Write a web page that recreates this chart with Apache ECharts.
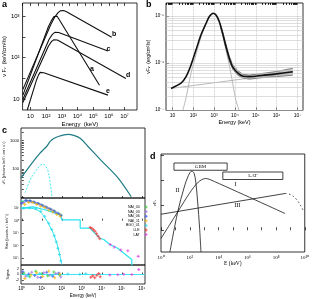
<!DOCTYPE html>
<html><head><meta charset="utf-8">
<script src="https://cdn.jsdelivr.net/npm/echarts@6/dist/echarts.min.js"></script>
<style>html,body{margin:0;padding:0;background:#fff}#c{width:312px;height:299px}</style>
</head><body><div id="c"></div>
<script>
// ===== Panel a: log10(E / keV) vs log10(nuFnu / keV cm^-2 s^-1) =====
const aB = [[0.52,1.23],[2.3,2.8],[2.55,2.98],[2.75,3.08],[2.9,3.13],[3.0,3.145],[3.12,3.14],[3.3,3.11],[6.18,2.49]];
const aA = [[0.52,1.09],[2.15,2.75],[2.35,2.9],[2.5,2.99],[2.6,3.02],[2.7,3.0],[2.85,2.91],[5.4,1.33]];
const aC = [[0.52,0.99],[2.2,2.45],[2.4,2.56],[2.55,2.61],[2.67,2.62],[2.8,2.605],[5.94,2.16]];
const aD = [[0.52,0.91],[2.15,2.28],[2.35,2.39],[2.5,2.43],[2.6,2.44],[2.72,2.425],[7.08,1.49]];
const aE = [[0.8,0.73],[1.4,1.47],[1.52,1.58],[1.62,1.64],[1.72,1.65],[1.85,1.63],[5.94,1.09]];
const aXTicks = [1,2,3,4,5,6,7];
const aYTicks = [1,2,3];

// ===== Panel b: log10(E / keV) vs log10(nuFnu / erg cm^-2 s^-1) =====
const bTotal = [[0.93,-6.54],[1.41,-6.43],[1.65,-6.29],[1.89,-6.04],[2.13,-5.72],[2.37,-5.40],[2.61,-5.16],[2.77,-5.01],[2.96,-4.94],[3.09,-4.98],[3.25,-5.12],[3.41,-5.37],[3.57,-5.65],[3.73,-5.90],[3.89,-6.08],[4.13,-6.21],[4.38,-6.28],[4.69,-6.29],[5.34,-6.26],[5.98,-6.23],[6.78,-6.185]];
const bBandComp = [[1.5,-7.0],[1.65,-6.74],[1.9,-6.2],[2.13,-5.82],[2.37,-5.45],[2.6,-5.17],[2.96,-4.95],[3.09,-4.98],[3.25,-5.13],[3.41,-5.4],[3.57,-5.72],[3.73,-6.05],[3.9,-6.45],[4.05,-6.8],[4.2,-7.0]];
const bPowerLaw = [[0.93,-6.54],[6.78,-6.2]];
const bUpper = [[3.3,-5.17],[3.41,-5.33],[3.57,-5.6],[3.73,-5.85],[3.89,-6.03],[4.13,-6.16],[4.38,-6.24],[4.69,-6.255],[5.34,-6.22],[5.98,-6.18],[6.78,-6.11]];
const bLower = [[3.3,-5.23],[3.41,-5.41],[3.57,-5.71],[3.73,-5.96],[3.89,-6.13],[4.13,-6.26],[4.38,-6.32],[4.69,-6.345],[5.34,-6.31],[5.98,-6.29],[6.78,-6.26]];
const bXTicks = [1,2,3,4,5,6,7];
const bYTicks = [-7,-6,-5];

// ===== Panel c (top): log10(E / keV) vs log10(nuFnu) =====
const cModel = [[-0.04,1.69],[0.5,2.2],[0.9,2.55],[1.08,2.68],[1.25,2.8],[1.42,2.97],[1.62,3.08],[1.82,3.14],[2.1,3.2],[2.32,3.22],[2.6,3.18],[2.92,3.08],[3.3,2.8],[4.0,2.28],[4.8,1.7],[5.47,1.03]];
const cBB = [[0.17,1.17],[0.42,1.62],[0.67,1.9],[0.85,2.08],[1.05,2.17],[1.18,2.12],[1.3,1.95],[1.4,1.6],[1.5,1.04]];
const cTopTicks = [2,3];
const cTopLabels = ['100','1000'];
// ===== Panel c (middle): log10(rate) =====
const cModelNaI = [[-0.04,1.55],[0.3,1.58],[0.6,1.5],[1.0,1.25],[1.4,0.93],[1.8,0.6],[2.0,0.42]];
const cModelStep = [[-0.04,1.0],[0.58,1.1],[1.2,0.85],[1.92,0.46],[2.0,0.46],[2.0,0.06],[2.92,0.06],[2.92,-0.6],[3.4,-0.6],[3.9,-1.4],[4.1,-1.5],[4.4,-1.9],[4.8,-2.2],[5.1,-2.6],[5.5,-3.1],[5.5,-3.6]];
const cModelBB = [[-0.04,1.0],[0.5,0.98],[0.9,0.75],[1.08,0.4],[1.25,0.0],[1.42,-0.5],[1.6,-1.1],[1.75,-1.8],[1.88,-2.6],[2.0,-3.5]];
const nai00 = [[0.05,1.5],[0.25,1.6],[0.45,1.55],[0.65,1.45],[0.85,1.35],[1.05,1.2],[1.25,1.05],[1.45,0.9],[1.65,0.75],[1.85,0.55],[1.95,0.45]];
const nai03 = [[0.1,1.45],[0.3,1.55],[0.5,1.5],[0.7,1.4],[0.9,1.3],[1.1,1.15],[1.3,1.0],[1.5,0.85],[1.7,0.65],[1.9,0.5]];
const nai06 = [[0.0,1.4],[0.2,1.62],[0.4,1.6],[0.6,1.5],[0.8,1.38],[1.0,1.25],[1.2,1.1],[1.4,0.95],[1.6,0.78],[1.8,0.6],[1.97,0.4]];
const nai11 = [[0.15,1.3],[0.35,1.45],[0.55,1.45],[0.75,1.3],[0.95,1.15],[1.15,1.05],[1.35,0.85],[1.55,0.7],[1.75,0.5],[1.92,0.35]];
const bgo01 = [[0.1,1.0],[0.4,1.02],[0.7,0.95],[0.95,0.75],[1.15,0.35],[1.35,-0.2],[1.5,-0.7],[1.62,-1.2],[1.72,-1.7],[1.8,-2.2],[1.88,-2.7],[1.95,-3.2]];
const lle = [[3.42,-0.55],[3.5,-0.6],[3.58,-0.72],[3.66,-0.85],[3.74,-1.05],[3.82,-1.25],[3.9,-1.45]];
const lat = [[4.42,-1.9],[4.62,-2.1],[4.95,-2.35],[5.3,-2.4],[5.82,-2.85]];
const cMidTicks = [-3,-2,-1,0,1];
// ===== Panel c (bottom): residuals in sigma =====
const rNai00 = [[0.1,0.5],[0.4,-0.8],[0.7,1.2],[1.0,0.3],[1.3,-0.5],[1.6,0.9],[1.9,-0.3]];
const rNai03 = [[0.2,-0.6],[0.5,0.8],[0.8,-1.0],[1.1,0.6],[1.4,-0.2],[1.7,0.4],[1.95,-0.9]];
const rNai06 = [[0.05,1.0],[0.35,0.2],[0.65,-0.4],[0.95,-1.1],[1.25,0.8],[1.55,-0.6],[1.85,0.5]];
const rNai11 = [[0.15,-1.5],[0.45,-0.2],[0.75,0.6],[1.05,-0.7],[1.35,1.3],[1.65,-1.2],[1.9,0.2]];
const rBgo01 = [[0.3,-0.5],[0.9,0.4],[1.5,-0.3],[2.3,0.2],[2.9,0.1],[3.2,0.3]];
const rLle = [[3.45,-1.0],[3.55,-0.5],[3.65,-1.2],[3.75,-0.3],[3.85,0.4],[3.92,-0.8]];
const rLat = [[4.4,-0.2],[4.8,-0.1],[5.1,0.1],[5.5,0.0],[5.85,1.8]];
const cZero = [[-0.04,0],[6.16,0]];
const cXTicks = [0,1,2,3,4,5,6];
const cResTicks = [-2,0,2];

// ===== Panel d: log10(E / keV) vs log nuFnu (arbitrary) =====
const dII = [[0.62,-0.87],[1.16,0.73],[1.62,1.73],[1.9,2.18],[2.15,2.37],[2.3,2.28],[2.42,1.93],[2.55,1.13],[2.68,0.13],[2.78,-0.87]];
const dI = [[0,-0.33],[0.6,0.22],[1.16,0.73],[1.97,1.47],[2.6,1.93],[3.1,2.07],[3.4,2.03],[8.63,0.67]];
const dIII = [[0,0.64],[8.63,1.47]];
const dIIIcut = [[8.63,1.47],[9.0,1.43],[9.4,1.25],[9.7,1.0],[9.95,0.73]];
const dGBM = [Math.log10(8), Math.log10(4e4)];
const dLAT = [Math.log10(2e4), Math.log10(3e8)];
const dXTicks = [0,2,4,6,8,10];
const dYTicks = [0,1,2,3];

// ---------- helpers ----------
const SUP = {'-':'⁻','0':'⁰','1':'¹','2':'²','3':'³','4':'⁴','5':'⁵','6':'⁶','7':'⁷','8':'⁸','9':'⁹'};
const pow10 = n => '10' + String(Math.round(n)).split('').map(c => SUP[c]).join('');
const minorLog = (lo, hi) => { const o = []; for (let n = Math.floor(lo); n <= Math.ceil(hi); n++) for (let k = 1; k <= 9; k++) { const v = n + Math.log10(k); if (v > lo && v < hi) o.push(v); } return o; };
const SANS = 'Liberation Sans', SERIF = 'Liberation Serif';
const tick = (vals, len) => ({ show: true, inside: true, length: len || 3, customValues: vals, lineStyle: { color: '#000', width: 0.7 } });
const lab = (vals, fmt, size, fam, margin) => ({ show: true, customValues: vals, formatter: fmt, fontSize: size || 6, fontFamily: fam || SANS, color: '#000', margin: margin == null ? 3 : margin });
const noLab = { show: false };
const base = (o) => Object.assign({ type: 'value', axisLine: { show: false }, splitLine: { show: false } }, o);

const ranges = {
  a: { x: [0.5, 7.79], y: [0.73, 3.32] },
  b: { x: [0.6875, 7.27], y: [-7.01, -4.723] },
  c1: { y: [0.986, 3.44] }, c2: { y: [-3.54, 1.81] }, c3: { y: [-3.5, 3.5] },
  cx: [-0.04, 6.16],
  d: { x: [0, 10], y: [-0.87, 3.05] }
};

const gridStyle = { show: true, borderColor: '#000', borderWidth: 0.8, backgroundColor: 'transparent' };
const grids = [
  Object.assign({ left: 16, top: 3, width: 121, height: 107 }, gridStyle),
  Object.assign({ left: 166, top: 3, width: 137, height: 107.5 }, gridStyle),
  Object.assign({ left: 21, top: 128, width: 124, height: 70 }, gridStyle),
  Object.assign({ left: 21, top: 198, width: 124, height: 67 }, gridStyle),
  Object.assign({ left: 21, top: 265, width: 124, height: 20 }, gridStyle),
  Object.assign({ left: 161, top: 154, width: 144, height: 98 }, gridStyle)
];

const xAxes = [
  base({ gridIndex: 0, min: ranges.a.x[0], max: ranges.a.x[1], axisTick: tick(aXTicks), axisLabel: lab(aXTicks, v => v === 1 ? '10' : pow10(v)),
    name: 'Energy  (keV)', nameLocation: 'middle', nameGap: 11, nameTextStyle: { fontSize: 6, fontFamily: SANS, color: '#000' } }),
  base({ gridIndex: 1, min: ranges.b.x[0], max: ranges.b.x[1], axisTick: tick(bXTicks), axisLabel: lab(bXTicks, v => v === 1 ? '10' : pow10(v), 5),
    name: 'Energy (keV)', nameLocation: 'middle', nameGap: 9, nameTextStyle: { fontSize: 5.5, fontFamily: SANS, color: '#000' } }),
  base({ gridIndex: 2, min: ranges.cx[0], max: ranges.cx[1], axisTick: tick(cXTicks, 2), axisLabel: noLab }),
  base({ gridIndex: 3, min: ranges.cx[0], max: ranges.cx[1], axisTick: tick(cXTicks, 2), axisLabel: noLab }),
  base({ gridIndex: 4, min: ranges.cx[0], max: ranges.cx[1], axisTick: tick(cXTicks, 2), axisLabel: lab(cXTicks, v => pow10(v), 4.5, SANS, 2),
    name: 'Energy (keV)', nameLocation: 'middle', nameGap: 9, nameTextStyle: { fontSize: 4.5, fontFamily: SANS, color: '#000' } }),
  base({ gridIndex: 5, min: ranges.d.x[0], max: ranges.d.x[1], axisTick: tick([0,1,2,3,4,5,6,7,8,9,10], 3), axisLabel: lab(dXTicks, v => pow10(v), 5, SERIF, 3),
    name: 'E (keV)', nameLocation: 'middle', nameGap: 9, nameTextStyle: { fontSize: 5.5, fontFamily: SERIF, color: '#000' } }),
  base({ gridIndex: 0, position: 'top', min: ranges.a.x[0], max: ranges.a.x[1], axisTick: tick(aXTicks.concat(aXTicks.map(v => v - 0.5)), 3), axisLabel: noLab }),
  base({ gridIndex: 1, position: 'top', min: ranges.b.x[0], max: ranges.b.x[1], axisTick: tick(minorLog(ranges.b.x[0], ranges.b.x[1]), 2), axisLabel: noLab }),
  base({ gridIndex: 1, min: ranges.b.x[0], max: ranges.b.x[1], axisTick: tick(minorLog(ranges.b.x[0], ranges.b.x[1]), 1.5), axisLabel: noLab })
];

const yAxes = [
  base({ gridIndex: 0, min: ranges.a.y[0], max: ranges.a.y[1], axisTick: tick(aYTicks.concat([1.5, 2.5]), 3), axisLabel: lab(aYTicks, v => v === 1 ? '10' : pow10(v), 6),
    name: 'ν F\u1D65  (keV/cm²/s)', nameLocation: 'middle', nameGap: 10, nameTextStyle: { fontSize: 5.5, fontFamily: SANS, color: '#000' } }),
  base({ gridIndex: 1, min: ranges.b.y[0], max: ranges.b.y[1], axisTick: tick(bYTicks, 3), axisLabel: lab(bYTicks, v => pow10(v), 4.5, SANS, 2),
    name: 'νF\u1D65  (erg/cm²/s)', nameLocation: 'middle', nameGap: 15, nameTextStyle: { fontSize: 5, fontFamily: SANS, color: '#000' } }),
  base({ gridIndex: 2, min: ranges.c1.y[0], max: ranges.c1.y[1], axisTick: tick(minorLog(ranges.c1.y[0], ranges.c1.y[1]), 2), axisLabel: lab(cTopTicks, v => cTopLabels[cTopTicks.indexOf(v)], 4, SANS, 2),
    name: 'νF\u1D65 (photons keV⁻¹ cm⁻² s⁻¹)', nameLocation: 'middle', nameGap: 11, nameTextStyle: { fontSize: 3.5, fontFamily: SANS, color: '#000' } }),
  base({ gridIndex: 3, min: ranges.c2.y[0], max: ranges.c2.y[1], axisTick: tick(cMidTicks, 2), axisLabel: lab(cMidTicks, v => pow10(v), 3.5, SANS, 2),
    name: 'Rate (counts s⁻¹ keV⁻¹)', nameLocation: 'middle', nameGap: 11, nameTextStyle: { fontSize: 3.5, fontFamily: SANS, color: '#000' } }),
  base({ gridIndex: 4, min: ranges.c3.y[0], max: ranges.c3.y[1], axisTick: tick(cResTicks, 2), axisLabel: lab(cResTicks, v => String(v), 3.5, SANS, 2),
    name: 'Sigma', nameLocation: 'middle', nameGap: 11, nameTextStyle: { fontSize: 3.5, fontFamily: SANS, color: '#000' } }),
  base({ gridIndex: 5, min: ranges.d.y[0], max: ranges.d.y[1], axisTick: tick(dYTicks, 3), axisLabel: noLab,
    name: 'νF\u1D65', nameLocation: 'middle', nameGap: 4, nameTextStyle: { fontSize: 5, fontFamily: SERIF, color: '#000' } })
];

const line = (xi, data, color, width, extra) => Object.assign({ type: 'line', xAxisIndex: xi, yAxisIndex: xi, data: data, symbol: 'none', silent: true, lineStyle: { color: color, width: width }, z: 3 }, extra || {});
const PLUS = 'path://M-0.35,-1h0.7v0.65h0.65v0.7h-0.65v0.65h-0.7v-0.65h-0.65v-0.7h0.65z';
const pts = (xi, name, data, color) => ({ type: 'scatter', name: name, xAxisIndex: xi, yAxisIndex: xi, data: data, symbol: PLUS, symbolSize: 3, itemStyle: { color: color }, z: 4, silent: true });

const bGridH = minorLog(ranges.b.y[0], ranges.b.y[1]).map(v => ({ yAxis: v }));
const bGridV = bXTicks.map(v => ({ xAxis: v }));

const series = [
  // panel a
  line(0, aB, '#111', 1.1),
  line(0, aA, '#111', 1.1),
  line(0, aC, '#111', 1.1),
  line(0, aD, '#111', 1.1),
  line(0, aE, '#111', 1.1),
  // panel b gridlines
  { type: 'line', xAxisIndex: 1, yAxisIndex: 1, data: [[0, -10]], symbol: 'none', silent: true, z: 1,
    markLine: { silent: true, symbol: 'none', label: { show: false }, animation: false,
      data: bGridH.map(d => Object.assign({ lineStyle: { color: '#c8c8c8', width: 0.6, type: 'solid' } }, d))
        .concat(bGridV.map(d => Object.assign({ lineStyle: { color: '#c0c0c0', width: 0.6, type: [2, 1] } }, d))) } },
  // panel b band
  { type: 'custom', xAxisIndex: 1, yAxisIndex: 1, data: [[5, -6.3]], silent: true, z: 2,
    renderItem: (params, api) => {
      const up = bUpper.map(p => api.coord(p));
      const lo = bLower.map(p => api.coord(p));
      return { type: 'group', children: [
        { type: 'polygon', shape: { points: up.concat(lo.slice().reverse()) }, style: { fill: '#c4c4c4', stroke: null } },
        { type: 'polyline', shape: { points: up }, style: { stroke: '#444', lineWidth: 0.6, fill: null } },
        { type: 'polyline', shape: { points: lo }, style: { stroke: '#444', lineWidth: 0.6, fill: null } }
      ] };
    } },
  line(1, bPowerLaw, '#999', 0.7),
  line(1, bBandComp, '#999', 0.7, { smooth: 0.3 }),
  line(1, bTotal, '#111', 1.6, { smooth: 0.3, z: 5 }),
  // panel c top
  line(2, cModel, '#1e7c84', 1.2, { smooth: 0.3 }),
  line(2, cBB, '#2ee6f2', 0.9, { smooth: 0.4, lineStyle: { color: '#2ee6f2', width: 0.9, type: [2, 1.5] } }),
  // panel c middle
  line(3, cModelNaI, '#29e3ef', 1.0, { smooth: 0.3 }),
  line(3, cModelStep, '#29e3ef', 1.2),
  line(3, cModelBB, '#29e3ef', 1.0, { smooth: 0.3 }),
  pts(3, 'NAI_00', nai00, '#2fd02f'),
  pts(3, 'NAI_03', nai03, '#a070e0'),
  pts(3, 'NAI_06', nai06, '#3a4ef0'),
  pts(3, 'NAI_11', nai11, '#f5b800'),
  pts(3, 'BGO_01', bgo01, '#27d8e8'),
  pts(3, 'LLE', lle, '#f02a2a'),
  pts(3, 'LAT', lat, '#e43ee4'),
  // panel c bottom
  line(4, cZero, '#29e3ef', 0.9),
  pts(4, 'NAI_00', rNai00, '#2fd02f'),
  pts(4, 'NAI_03', rNai03, '#a070e0'),
  pts(4, 'NAI_06', rNai06, '#3a4ef0'),
  pts(4, 'NAI_11', rNai11, '#f5b800'),
  pts(4, 'BGO_01', rBgo01, '#27d8e8'),
  pts(4, 'LLE', rLle, '#f02a2a'),
  pts(4, 'LAT', rLat, '#e43ee4'),
  // panel d
  line(5, dII, '#111', 0.8, { smooth: 0.35 }),
  line(5, dI, '#111', 0.8, { smooth: 0.3 }),
  line(5, dIII, '#111', 0.8),
  line(5, dIIIcut, '#111', 0.8, { smooth: 0.4, lineStyle: { color: '#111', width: 0.8, type: [1.5, 2.5] } }),
  { type: 'custom', xAxisIndex: 5, yAxisIndex: 5, data: [[5, 2]], silent: true, z: 6,
    renderItem: (params, api) => {
      const box = (r, y0, y1, txt) => {
        const p0 = api.coord([r[0], y1]), p1 = api.coord([r[1], y0]);
        return [
          { type: 'rect', shape: { x: p0[0], y: p0[1], width: p1[0] - p0[0], height: p1[1] - p0[1] }, style: { fill: '#fff', stroke: '#111', lineWidth: 0.8 } },
          { type: 'text', style: { text: txt, x: (p0[0] + p1[0]) / 2, y: (p0[1] + p1[1]) / 2, align: 'center', verticalAlign: 'middle', font: '5px "Liberation Serif"', fill: '#111' } }
        ];
      };
      return { type: 'group', children: box(dGBM, 2.40, 2.69, 'GBM').concat(box(dLAT, 2.03, 2.33, 'LAT')) };
    } }
];

const txt = (t, x, y, font) => ({ type: 'text', x: x, y: y, silent: true, style: { text: t, font: font, fill: '#000' } });
const graphic = [
  txt('a', 2, 0, 'bold 9px "Liberation Sans"'),
  txt('b', 146, 0, 'bold 9px "Liberation Sans"'),
  txt('c', 2, 126, 'bold 9px "Liberation Sans"'),
  txt('d', 150, 152, 'bold 9px "Liberation Sans"'),
  txt('b', 112, 31, 'bold 7px "Liberation Sans"'),
  txt('c', 106.5, 46, 'bold 7px "Liberation Sans"'),
  txt('d', 126, 72, 'bold 7px "Liberation Sans"'),
  txt('a', 90, 66, 'bold 7px "Liberation Sans"'),
  txt('e', 106, 88, 'bold 7px "Liberation Sans"'),
  txt('II', 175.5, 187, '6px "Liberation Serif"'),
  txt('I', 234.5, 181.5, '6px "Liberation Serif"'),
  txt('III', 234.5, 202.5, '6px "Liberation Serif"')
];

const chart = echarts.init(document.getElementById('c'), null, { renderer: 'canvas' });
chart.setOption({
  animation: false,
  grid: grids, xAxis: xAxes, yAxis: yAxes, series: series, graphic: graphic,
  legend: { orient: 'vertical', left: 126, top: 205, itemWidth: 3, itemHeight: 3, itemGap: 0.6, align: 'right', padding: 0,
    selectedMode: false, textStyle: { fontSize: 3.5, fontFamily: SANS, color: '#000', padding: [0, 0, 0, 0] },
    data: ['NAI_00', 'NAI_03', 'NAI_06', 'NAI_11', 'BGO_01', 'LLE', 'LAT'] }
});
</script></body></html>
